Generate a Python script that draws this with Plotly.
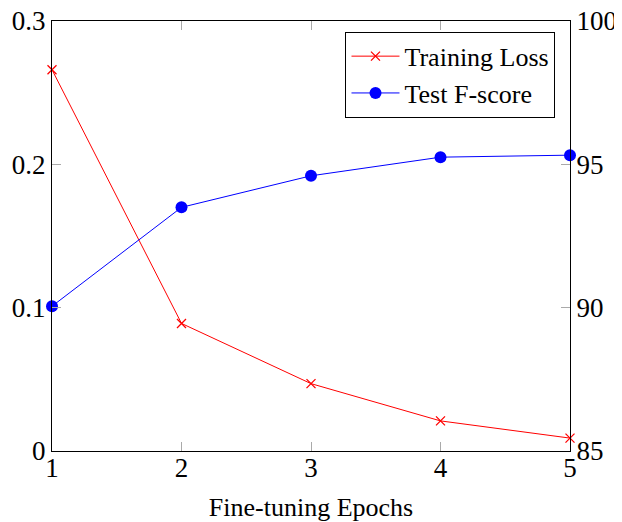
import plotly.graph_objects as go

epochs = [1, 2, 3, 4, 5]
training_loss = [0.266, 0.089, 0.047, 0.021, 0.009]
test_fscore = [90.05, 93.5, 94.6, 95.25, 95.32]
loss_ticks = [0, 0.1, 0.2, 0.3]
loss_tick_labels = ["0", "0.1", "0.2", "0.3"]
f_ticks = [85, 90, 95, 100]

FONT = "Liberation Serif, Times New Roman, serif"

fig = go.Figure()
fig.add_trace(go.Scatter(
    x=epochs, y=training_loss, name="Training Loss", mode="lines+markers",
    line=dict(color="red", width=1),
    marker=dict(symbol="x-thin", size=9, line=dict(color="red", width=1.3), color="red"),
    yaxis="y", cliponaxis=False))
fig.add_trace(go.Scatter(
    x=epochs, y=test_fscore, name="Test F-score", mode="lines+markers",
    line=dict(color="blue", width=1),
    marker=dict(symbol="circle", size=12, color="blue"),
    yaxis="y2", cliponaxis=False))

fig.update_layout(
    width=614, height=514,
    margin=dict(l=44, r=52, t=13, b=71),
    paper_bgcolor="white", plot_bgcolor="white",
    font=dict(family=FONT, size=26, color="black"),
    showlegend=True,
    legend=dict(x=0.972, y=0.975, xanchor="right", yanchor="top",
                bordercolor="black", borderwidth=1, bgcolor="white",
                font=dict(size=26), tracegroupgap=0, itemwidth=48),
    xaxis=dict(range=[1, 5], tickvals=epochs, showgrid=False, zeroline=False,
               showline=True, linecolor="black", linewidth=1, mirror="ticks",
               ticks="inside", ticklen=9, tickcolor="#aaaaaa", tickwidth=1,
               automargin=False, ticklabelstandoff=-7, ticklabeloverflow="allow",
               title=dict(text="Fine-tuning Epochs", standoff=16, font=dict(size=26)),
               tickfont=dict(size=27)),
    yaxis=dict(range=[0, 0.3], tickvals=loss_ticks, ticktext=loss_tick_labels,
               showgrid=False, zeroline=False, showline=True, linecolor="black",
               linewidth=1, ticks="inside", ticklen=9, tickcolor="#aaaaaa",
               automargin=False, ticklabeloverflow="allow", tickfont=dict(size=27)),
    yaxis2=dict(range=[85, 100], tickvals=f_ticks, overlaying="y", side="right",
                showgrid=False, zeroline=False, showline=True, linecolor="black",
                linewidth=1, ticks="inside", ticklen=9, tickcolor="#aaaaaa",
                automargin=False, ticklabeloverflow="allow", tickfont=dict(size=27)),
)

fig.write_html("out.html")
